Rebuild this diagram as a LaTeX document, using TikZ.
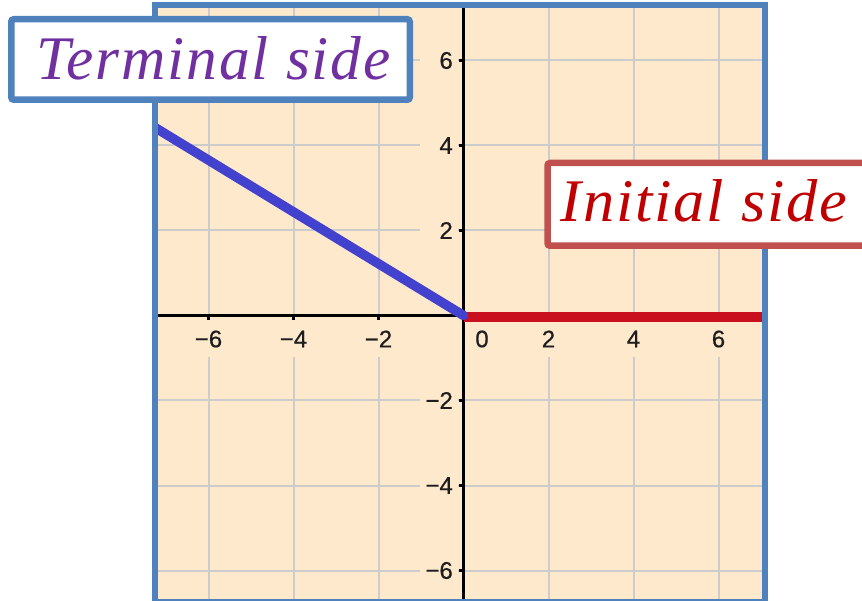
\documentclass[tikz,border=0pt]{standalone}
\usepackage{fontspec}
\setmainfont{Liberation Serif}
\newfontfamily\ticksf[FakeBold=0.6]{Liberation Sans}
\newfontfamily\boxsf[LetterSpace=3]{Liberation Serif}
\definecolor{peach}{RGB}{255,233,205}
\definecolor{gridgray}{RGB}{204,204,204}
\definecolor{frameblue}{RGB}{79,129,189}
\definecolor{boxred}{RGB}{192,80,77}
\definecolor{txtpurple}{RGB}{112,48,160}
\definecolor{txtred}{RGB}{192,0,0}
\definecolor{sidered}{RGB}{200,16,30}
\definecolor{sideblue}{RGB}{66,66,206}
\definecolor{ticktxt}{RGB}{30,30,30}
\begin{document}
\begin{tikzpicture}[x=1pt,y=-1pt,
  gridline/.style={draw=gridgray,line width=2pt},
  axisline/.style={draw=black,line width=3.5pt},
  tickmark/.style={draw=black,line width=2.5pt},
  xlab/.style={fill=peach,inner sep=0pt,minimum height=37pt,minimum width=32pt,font=\ticksf\fontsize{24}{24}\selectfont,text=ticktxt},
  ylab/.style={fill=peach,inner xsep=5pt,inner ysep=0pt,minimum height=26pt,text width=28pt,align=right,font=\ticksf\fontsize{24}{24}\selectfont,text=ticktxt,anchor=east},
  labelbox/.style={draw,line width=6.5pt,fill=white,rounded corners=2.5pt,inner sep=0pt}
]
\useasboundingbox (0,0) rectangle (862,601);
\fill[peach] (155,5) rectangle (765,601);
\coordinate (O) at (463.5,315.5);
\coordinate (xl) at (158,315.5);
\coordinate (xr) at (762,315.5);
\coordinate (yt) at (463.5,8);
\coordinate (yb) at (463.5,601);
\coordinate (Ored) at (463.5,317);
\coordinate (Rend) at (762,317);
\coordinate (Bend) at (150,124.5);
\begin{scope}
\clip (158,8) rectangle (762,601);
\foreach \k in {-6,-4,-2,2,4,6} {
  \draw[gridline] ({463.5+42.5*\k},8) -- ({463.5+42.5*\k},601);
  \draw[gridline] (158,{315.5-42.5*\k}) -- (762,{315.5-42.5*\k});
}
\foreach \k/\t in {-6/{−6},-4/{−4},-2/{−2},2/{2},4/{4},6/{6}} {
  \node[xlab] (xt\k) at ({463.5+42.5*\k},339) {\t};
  \node[ylab] (yt\k) at (458,{315.5-42.5*\k}) {\t};
}
\node[font=\ticksf\fontsize{24}{24}\selectfont,text=ticktxt,inner sep=0pt] (zero) at (482,339) {0};
\draw[axisline] (xl) -- (xr);
\draw[axisline] (yt) -- (yb);
\foreach \k in {-6,-4,-2,2,4,6} {
  \draw[tickmark] ({463.5+42.5*\k},315.5) -- ({463.5+42.5*\k},320.5);
  \draw[tickmark] (458.5,{315.5-42.5*\k}) -- (463.5,{315.5-42.5*\k});
}
\draw[sidered,line width=9.5pt] (Ored) -- (Rend);
\draw[sideblue,line width=9.5pt,line cap=round] (O) -- (Bend);
\end{scope}
\draw[frameblue,line width=6pt] (155,5) rectangle (765,601.5);
\draw[labelbox,draw=frameblue] (11.25,19.25) rectangle (409.75,99.75);
\node[anchor=base,inner sep=0pt,text=txtpurple] (term) at (213.5,80)
  {\scalebox{0.99}[1]{\boxsf\fontsize{62}{62}\selectfont\itshape Terminal side}};
\draw[labelbox,draw=boxred] (547.5,163) rectangle (880,245.75);
\node[anchor=base,inner sep=0pt,text=txtred] (init) at (704,222)
  {\scalebox{1.03}[1]{\boxsf\fontsize{60.5}{60}\selectfont\itshape Initial side}};
\end{tikzpicture}
\end{document}
